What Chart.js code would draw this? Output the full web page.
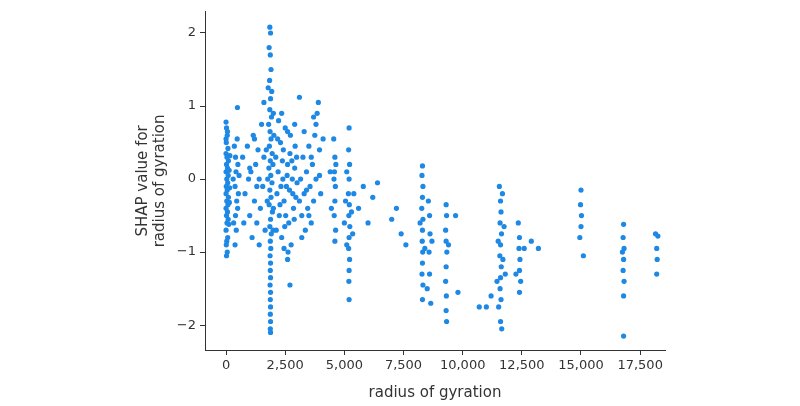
<!DOCTYPE html>
<html><head><meta charset="utf-8">
<script src="https://cdn.jsdelivr.net/npm/chart.js@4/dist/chart.umd.min.js"></script>
<style>html,body{margin:0;padding:0;background:#fff}#w{width:800px;height:406px}</style>
</head><body><div id="w"><canvas id="c"></canvas></div>
<script>
const xTicks=[0,2500,5000,7500,10000,12500,15000,17500];
const yTicks=[-2,-1,0,1,2];
const samples=[
[0,0.78],[20,0.7],[50,0.6],[10,0.5],[80,0.42],[0,0.35],[40,0.3],[100,0.25],[20,0.2],[60,0.15],[0,0.1],[90,0.05],[30,0.0],[70,-0.05],[10,-0.1],[50,-0.15],[0,-0.2],[100,-0.25],[30,-0.3],[80,-0.35],[0,-0.4],[60,-0.45],[20,-0.5],[90,-0.55],[40,-0.6],[0,-0.7],[70,-0.8],[10,-0.9],[50,-1.0],[20,-1.05],[130,0.12],[150,-0.12],[140,-0.32],[160,0.32],[120,-0.62],[0,0.55],[60,0.65],[30,-0.85],
[350,0.45],[400,0.3],[420,0.1],[380,-0.1],[450,-0.3],[400,-0.5],[430,-0.7],[380,-0.9],[470,0.55],[500,0.2],[520,-0.2],[490,-0.4],[300,0.0],[320,-0.6],[550,0.05],[480,0.98],
[700,0.3],[800,-0.2],[900,0.45],[1000,-0.5],[1050,0.1],[1100,-0.8],[1150,0.6],[1200,-0.3],[1250,0.2],[1300,-0.6],[1350,0.4],[1400,0.0],[1450,-0.4],[1500,0.75],[1550,-0.1],[1600,0.3],[1650,-0.7],[1000,0.15],[1200,0.55],[1300,-0.1],[750,-0.6],[950,0.0],[1400,-0.9],[1600,1.05],
[1850,2.08],[1880,2.0],[1820,1.8],[1870,1.7],[1900,1.5],[1840,1.35],[1780,1.25],[1880,1.1],[1850,0.95],[1920,0.85],[1800,0.75],[1860,0.65],[1900,0.55],[1830,0.45],[1950,0.35],[1870,0.25],[1810,0.15],[1890,0.05],[1940,-0.05],[1850,-0.15],[1900,-0.25],[1820,-0.35],[1960,-0.45],[1880,-0.55],[1850,-0.65],[1910,-0.75],[1870,-0.85],[1890,-0.95],[1860,-1.05],[1880,-1.15],[1870,-1.25],[1880,-1.35],[1860,-1.45],[1880,-1.55],[1870,-1.65],[1880,-1.75],[1870,-1.85],[1880,-1.95],[1870,-2.05],[1880,-2.1],[1760,0.0],[1740,-0.3],[1980,0.2],[2000,-0.4],[1700,0.4],[2020,0.6],[1990,-0.7],[1930,1.2],[2000,0.9],
[2100,0.3],[2150,-0.2],[2200,0.1],[2250,-0.5],[2300,0.5],[2350,-0.8],[2400,0.0],[2450,-0.3],[2500,0.7],[2550,-0.1],[2600,0.2],[2650,-0.6],[2700,0.35],[2750,-0.9],[2800,0.0],[2850,-0.4],[2900,0.15],[2950,-0.25],[3000,-0.05],[2120,-0.7],[2220,0.8],[2320,-0.1],[2420,0.4],[2520,-0.5],[2620,-1.0],[2720,0.6],[2820,-0.2],[2920,0.45],[2180,0.55],[2280,-0.35],[2380,0.25],[2480,-0.65],[2580,0.05],[2680,-0.15],[2780,0.25],[2880,-0.55],[2980,0.3],[2700,-1.45],[2600,-1.1],[2450,-0.95],[2350,0.9],[2900,0.75],[3100,1.12],[2600,0.65],
[3100,-0.3],[3150,0.0],[3200,-0.5],[3250,0.3],[3300,-0.2],[3350,-0.7],[3400,0.1],[3450,-0.4],[3500,0.45],[3550,-0.1],[3600,-0.6],[3650,0.2],[3700,-0.3],[3750,0.6],[3800,0.0],[3850,0.9],[3900,1.05],[3950,0.4],[4000,-0.2],[3800,0.75],[3700,0.85],[3600,0.3],[3300,0.65],[3200,-0.8],[3500,-0.5],[3400,-0.15],[4100,0.55],[3950,0.05],
[4550,0.55],[4600,0.3],[4580,0.1],[4620,-0.1],[4600,-0.3],[4570,-0.5],[4630,-0.7],[4600,-0.85],[4560,0.0],[4640,0.2],[4450,-0.4],[4400,0.1],
[5200,0.7],[5180,0.4],[5220,0.2],[5200,0.0],[5170,-0.2],[5210,-0.35],[5190,-0.5],[5230,-0.65],[5200,-0.8],[5180,-0.95],[5220,-1.1],[5200,-1.25],[5190,-1.4],[5200,-1.65],[5050,-0.3],[5000,-0.6],[5100,0.1],[5300,-0.45],[5350,-0.75],[5400,-0.2],[5100,-0.9],
[5600,-0.4],[5800,-0.1],[6000,-0.6],[6200,-0.25],[6400,-0.05],[7000,-0.55],[7200,-0.4],[7400,-0.75],[7600,-0.9],
[8300,0.18],[8280,0.05],[8320,-0.1],[8300,-0.25],[8270,-0.4],[8320,-0.55],[8300,-0.7],[8290,-0.85],[8310,-1.0],[8300,-1.15],[8280,-1.3],[8320,-1.45],[8300,-1.65],[8200,-0.6],[8400,-0.95],
[8550,-0.3],[8600,-0.5],[8620,-0.75],[8580,-1.0],[8600,-1.3],[8650,-1.7],[8500,-1.5],[8700,-0.85],
[9300,-0.35],[9320,-0.5],[9280,-0.7],[9300,-0.85],[9330,-1.0],[9300,-1.2],[9280,-1.4],[9310,-1.6],[9300,-1.8],[9320,-1.95],[9400,-0.9],
[9700,-0.5],[9800,-1.55],[10700,-1.75],[11000,-1.75],[11200,-1.6],
[11550,-0.1],[11600,-0.3],[11620,-0.45],[11580,-0.6],[11640,-0.75],[11600,-0.9],[11570,-1.05],[11630,-1.2],[11600,-1.35],[11580,-1.5],[11620,-1.65],[11600,-1.95],[11650,-2.05],[11500,-0.85],[11700,-1.1],[11750,-0.65],[11800,-1.3],[11450,-1.4],[11680,-0.2],[11520,-1.75],
[12350,-0.6],[12400,-0.8],[12380,-0.95],[12420,-1.1],[12400,-1.25],[12450,-1.4],[12400,-1.55],[12250,-1.3],[12600,-0.95],[12900,-0.85],[13200,-0.95],
[15000,-0.15],[14980,-0.35],[15020,-0.5],[15000,-0.65],[14950,-0.8],[15100,-1.05],
[16800,-0.62],[16780,-0.8],[16820,-0.95],[16800,-1.1],[16780,-1.25],[16820,-1.4],[16800,-1.6],[16800,-2.15],[16750,-1.0],
[18150,-0.75],[18250,-0.78],[18200,-0.95],[18220,-1.1],[18200,-1.3]
];
const radiusOfGyration=samples.map(p=>p[0]);
const shapValues=samples.map(p=>p[1]);
const F='"DejaVu Sans", sans-serif';
const axisCol='#333333';
new Chart(document.getElementById('c'),{
type:'scatter',
data:{datasets:[{data:radiusOfGyration.map((x,i)=>({x,y:shapValues[i]})),backgroundColor:'#1E88E5',borderWidth:0,pointRadius:2.6,pointHoverRadius:2.6}]},
options:{responsive:true,maintainAspectRatio:false,animation:false,
layout:{padding:{left:130,right:135,top:10,bottom:0}},
plugins:{legend:{display:false},tooltip:{enabled:false}},
scales:{
x:{type:'linear',min:-890,max:18550,
 afterBuildTicks:s=>{s.ticks=xTicks.map(v=>({value:v}));},
 afterFit:s=>{s.height=56;},
 grid:{drawOnChartArea:false,tickLength:5,color:axisCol},
 border:{color:axisCol,width:1},
 ticks:{color:axisCol,font:{family:F,size:13},maxRotation:0,padding:3},
 title:{display:true,text:'radius of gyration',color:axisCol,font:{family:F,size:15},padding:{top:2}}},
y:{type:'linear',min:-2.34,max:2.29,
 afterBuildTicks:s=>{s.ticks=yTicks.map(v=>({value:v}));},
 afterFit:s=>{s.width=75;},
 grid:{drawOnChartArea:false,tickLength:5,color:axisCol},
 border:{color:axisCol,width:1},
 ticks:{color:axisCol,font:{family:F,size:13},padding:4,callback:v=>v<0?'\u2212'+Math.abs(v):String(v)},
 title:{display:true,text:['SHAP value for','radius of gyration'],color:axisCol,font:{family:F,size:15,lineHeight:1.15},padding:{bottom:4}}}
}}});
</script></body></html>
